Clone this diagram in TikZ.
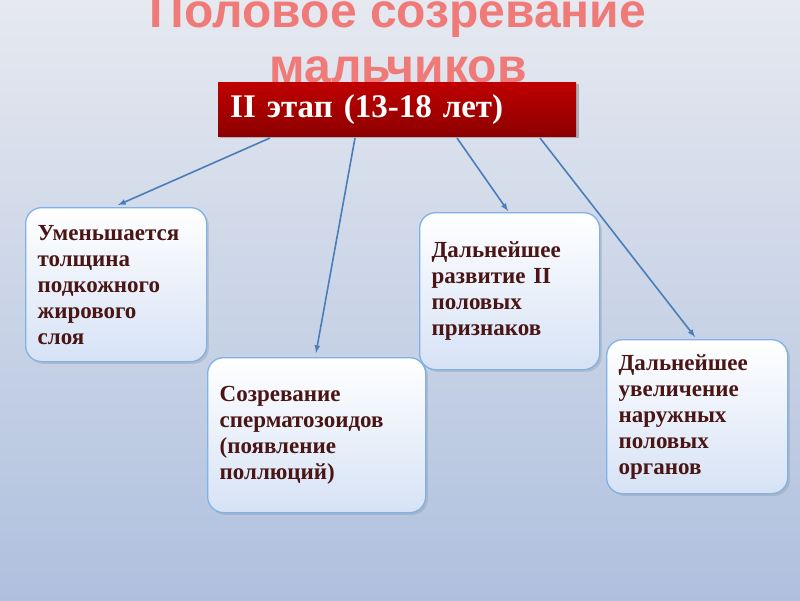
\documentclass[tikz,border=0pt]{standalone}
\usepackage{fontspec}
\setmainfont{Liberation Serif}
\newfontfamily\titlefont{Liberation Sans}
\usetikzlibrary{shadows}
\definecolor{bgtop}{HTML}{E6E9F0}
\definecolor{bgbot}{HTML}{AFC0DE}
\definecolor{steel}{HTML}{4A7EBB}
\definecolor{boxline}{HTML}{7FB2E5}
\definecolor{boxbot}{HTML}{D6E2F5}
\definecolor{ttl}{HTML}{F07A78}
\definecolor{txt}{HTML}{4A1515}
\begin{document}
\begin{tikzpicture}[x=1pt,y=-1pt,
  infobox/.style={draw=boxline, line width=1.3pt, rounded corners=16pt,
    top color=white, bottom color=boxbot, drop shadow={opacity=0.25},
    minimum width=#1, text width=#1-24pt, align=left, inner xsep=12pt, inner ysep=10pt,
    font=\bfseries\fontsize{23}{26}\selectfont, text=txt, anchor=north west},
  conn/.style={-latex, draw=steel, line width=1.6pt}]
\useasboundingbox (0,0) rectangle (800,600);
\shade[top color=bgtop, bottom color=bgbot] (0,0) rectangle (800,600);
\node[font=\titlefont\bfseries\fontsize{48}{50}\selectfont, text=ttl] (t1) at (398,16) {Половое созревание};
\node[font=\titlefont\bfseries\fontsize{48}{50}\selectfont, text=ttl] (t2) at (398,70) {мальчиков};
\node[anchor=north west, minimum width=358pt, minimum height=54pt, top color=red!75!black, bottom color=red!55!black,
  drop shadow, text=white, font=\bfseries\fontsize{33}{35}\selectfont, text width=346pt, align=left, inner xsep=6pt] (top) at (218,82) {\hspace{6pt}II этап (13-18 лет)};
\node[infobox=181pt, minimum height=154pt] (b1) at (25,207) {Уменьшается\\толщина\\подкожного\\ жирового\\слоя};
\node[infobox=218pt, minimum height=155pt] (b2) at (207,357) {Созревание\\сперматозоидов\\(появление\\поллюций)};
\node[infobox=180pt, minimum height=157pt] (b3) at (419,212) {Дальнейшее\\развитие II\\половых\\признаков};
\node[infobox=181pt, minimum height=154pt] (b4) at (606,339) {Дальнейшее\\увеличение\\наружных\\половых\\органов};
\coordinate (s1) at (270,138); \coordinate (e1) at (118,205);
\coordinate (s2) at (355,138); \coordinate (e2) at (316,353);
\coordinate (s3) at (457,138); \coordinate (e3) at (508,211);
\coordinate (s4) at (540,138); \coordinate (e4) at (695,337);
\draw[conn] (s1) -- (e1); \draw[conn] (s2) -- (e2);
\draw[conn] (s3) -- (e3); \draw[conn] (s4) -- (e4);
\end{tikzpicture}
\end{document}
